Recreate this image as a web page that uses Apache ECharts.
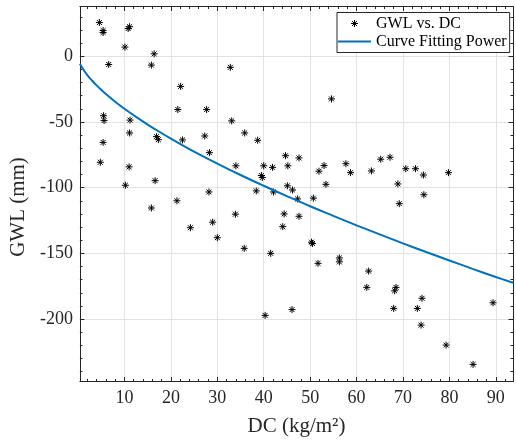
<!DOCTYPE html>
<html><head><meta charset="utf-8">
<script src="https://cdn.jsdelivr.net/npm/echarts@6/dist/echarts.min.js"></script>
<style>html,body{margin:0;padding:0;background:#fff}#c{width:516px;height:444px}</style>
</head><body><div id="c"></div>
<script>
// Scatter data: DC (kg/m^2) vs GWL (mm)
const dcValues = [4.6,5.4,5.4,10.8,11.1,10.1,16.4,6.6,15.8,32.8,
  22.1,21.5,27.7,5.5,5.6,11.2,33.1,11.1,35.9,16.9,
  17.3,22.5,27.3,38.7,28.3,5.4,4.8,11.0,34.0,40.0,
  41.9,45.2,44.7,47.6,39.5,39.7,10.2,16.6,45.1,46.2,
  28.2,38.4,42.1,21.3,15.8,33.9,44.4,47.6,29.0,24.2,
  44.1,30.0,35.8,41.5,51.9,53.0,57.7,58.7,63.2,65.2,
  67.2,70.6,72.7,74.4,79.8,53.4,68.9,47.3,50.7,74.5,
  69.2,50.3,50.5,56.3,56.3,51.7,62.6,62.2,68.5,68.2,
  74.1,68.0,73.1,89.4,73.9,79.3,85.1,46.1,40.3,54.6];
const gwlValues = [25.6,19.5,18.0,21.0,22.4,6.9,1.8,-6.3,-6.8,-8.5,
  -23.0,-40.6,-40.6,-45.3,-49.0,-48.6,-49.2,-58.4,-58.4,-61.2,
  -63.5,-63.7,-60.7,-64.0,-73.4,-65.6,-80.7,-84.2,-83.4,-83.4,
  -84.6,-83.4,-75.7,-77.4,-90.8,-92.3,-98.2,-94.7,-98.6,-101.8,
  -103.3,-102.5,-103.3,-110.0,-115.5,-120.2,-120.0,-121.8,-126.3,-130.5,
  -129.7,-138.1,-146.2,-150.0,-87.5,-83.2,-81.8,-88.6,-87.3,-78.4,
  -76.9,-85.6,-85.6,-90.4,-88.6,-97.5,-97.2,-108.6,-108.0,-105.4,
  -112.2,-141.5,-142.5,-153.5,-156.5,-157.6,-163.5,-175.9,-175.9,-178.5,
  -184.2,-191.9,-191.9,-187.6,-204.6,-219.8,-234.5,-192.8,-197.2,-32.5];
// Fitted power curve
const fitDC  = [0.4,1,2,3,4,5,6,8,10,12.5,15,17.5,20,25,30,35,40,45,50,55,60,65,70,75,80,85,90,93.7];
const fitGWL = [-5.8,-9.4,-14.4,-18.5,-22.2,-25.6,-28.8,-34.6,-40.0,-46.2,-52.0,-57.5,-62.7,-72.6,-81.7,-90.4,-98.6,-106.5,-114.2,-121.5,-128.7,-135.6,-142.4,-149.0,-155.4,-161.8,-168.0,-172.4];
// Ticks
const xTicks = [10,20,30,40,50,60,70,80,90];
const xMinorTicks = [2,4,6,8,12,14,16,18,22,24,26,28,32,34,36,38,42,44,46,48,52,54,56,58,62,64,66,68,72,74,76,78,82,84,86,88,92];
const yTicks = [-200,-150,-100,-50,0];
const yMinorTicks = [-240,-230,-220,-210,-190,-180,-170,-160,-140,-130,-120,-110,-90,-80,-70,-60,-40,-30,-20,-10,10,20,30];
const seriesNames = ['GWL vs. DC','Curve Fitting Power'];

const X_MIN = 0.4, X_MAX = 93.7, Y_MIN = -247.5, Y_MAX = 37.8;
const FONT = 'Liberation Serif';
const AX = '#262626';

function mkAxis(kind, pos, ticks, len, main) {
  return {
    type: 'value', position: pos,
    min: kind === 'x' ? X_MIN : Y_MIN,
    max: kind === 'x' ? X_MAX : Y_MAX,
    axisLine: { show: !!main, onZero: false, lineStyle: { color: AX, width: 1 } },
    axisTick: { show: true, inside: true, length: len, customValues: ticks, lineStyle: { color: AX, width: 1 } },
    axisLabel: { show: false },
    splitLine: { show: false },
    minorTick: { show: false }, minorSplitLine: { show: false }
  };
}

const xAxes = [
  mkAxis('x','bottom',xTicks,4.5,true),
  mkAxis('x','bottom',xMinorTicks,2.5,false),
  mkAxis('x','top',xTicks,4.5,true),
  mkAxis('x','top',xMinorTicks,2.5,false)
];
xAxes[0].axisLabel = { show: true, customValues: xTicks, margin: 8, fontFamily: FONT, fontSize: 18, color: AX };
xAxes[0].splitLine = { show: true, lineStyle: { color: '#e3e3e3', width: 1 } };
xAxes[0].name = 'DC (kg/m\u00B2)';
xAxes[0].nameLocation = 'middle';
xAxes[0].nameGap = 34;
xAxes[0].nameTextStyle = { fontFamily: FONT, fontSize: 21, color: AX };

const yAxes = [
  mkAxis('y','left',yTicks,4.5,true),
  mkAxis('y','left',yMinorTicks,2.5,false),
  mkAxis('y','right',yTicks,4.5,true),
  mkAxis('y','right',yMinorTicks,2.5,false)
];
yAxes[0].axisLabel = { show: true, customValues: yTicks, margin: 7, fontFamily: FONT, fontSize: 18, color: AX };
yAxes[0].splitLine = { show: true, lineStyle: { color: '#e3e3e3', width: 1 } };
yAxes[0].name = 'GWL (mm)';
yAxes[0].nameLocation = 'middle';
yAxes[0].nameRotate = 90;
yAxes[0].nameGap = 45;
yAxes[0].nameTextStyle = { fontFamily: FONT, fontSize: 21, color: AX, padding: [0, 26, 0, 0] };

const ASTER = 'path://M0,-10L0,10M-10,0L10,0M-7.07,-7.07L7.07,7.07M-7.07,7.07L7.07,-7.07';

const chart = echarts.init(document.getElementById('c'), null, { renderer: 'canvas' });
chart.setOption({
  animation: false,
  backgroundColor: '#fff',
  grid: { left: 78.3, right: 3, top: 6.5, bottom: 62.5, containLabel: false },
  xAxis: xAxes,
  yAxis: yAxes,
  legend: {
    orient: 'vertical', left: 337, top: 12.5,
    padding: [2, 3, 2, 1], itemWidth: 33, itemHeight: 7, itemGap: 0,
    backgroundColor: '#fff', borderColor: AX, borderWidth: 1, borderRadius: 0,
    textStyle: { fontFamily: FONT, fontSize: 16, color: '#000', lineHeight: 18 },
    selectedMode: false,
    data: [
      { name: seriesNames[0], icon: ASTER,
        itemStyle: { color: 'transparent', borderColor: '#000', borderWidth: 1 } },
      { name: seriesNames[1], icon: 'path://M0,0L40,0L40,2.2L0,2.2Z',
        itemStyle: { color: '#0072BD', borderWidth: 0 } }
    ]
  },
  series: [
    {
      name: seriesNames[0], type: 'scatter', xAxisIndex: 0, yAxisIndex: 0,
      symbol: ASTER, symbolSize: 7, silent: true,
      itemStyle: { color: '#000', borderColor: '#000', borderWidth: 1, opacity: 1 },
      data: dcValues.map((x, i) => [x, gwlValues[i]])
    },
    {
      name: seriesNames[1], type: 'line', xAxisIndex: 0, yAxisIndex: 0,
      symbol: 'none', smooth: 0.4, silent: true,
      lineStyle: { color: '#0072BD', width: 2 }, itemStyle: { color: '#0072BD' },
      data: fitDC.map((x, i) => [x, fitGWL[i]])
    }
  ]
});
</script>
</body></html>
